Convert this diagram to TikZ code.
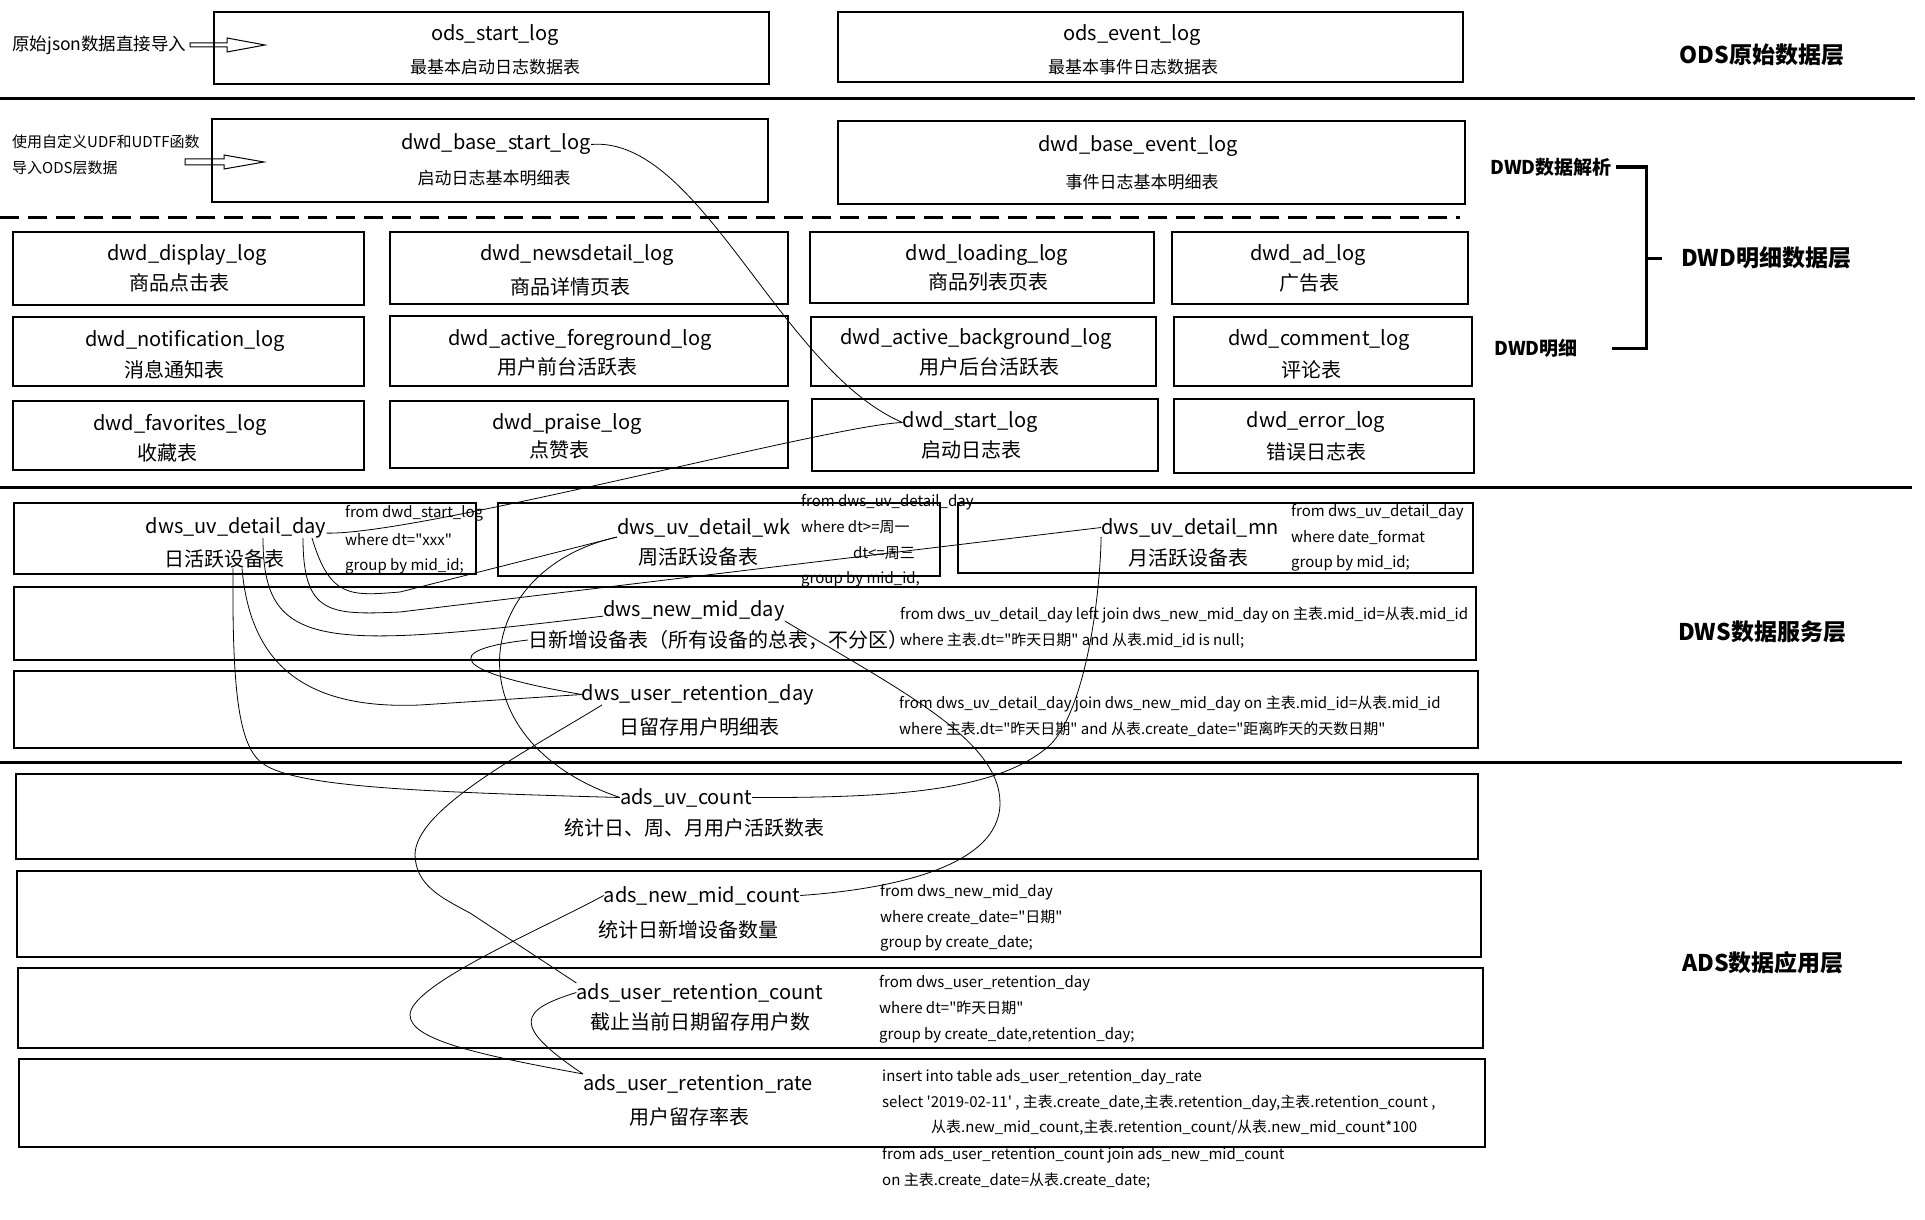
\documentclass[tikz,border=0pt]{standalone}
\usepackage{fontspec}
\setmainfont{Noto Sans CJK SC}
\usetikzlibrary{fit}
\newcommand\dbox[5]{\node[box, fit={(#2,#3) (#4,#5)}] (#1) {};}
\newcommand\qd{\textquotedbl}
\begin{document}
\begin{tikzpicture}[x=1pt,y=-1pt,
  box/.style={draw, line width=1.2pt, inner sep=0pt},
  ttl/.style={inner sep=0pt, yshift=-2.5pt, font=\fontsize{20}{24}\selectfont},
  sub/.style={inner sep=0pt, font=\fontsize{20}{24}\selectfont},
  subs/.style={inner sep=0pt, font=\fontsize{17}{20}\selectfont},
  sql/.style={inner sep=0pt, anchor=west, font=\fontsize{15}{18}\selectfont},
  layer/.style={inner sep=0pt, font=\fontsize{23}{27}\selectfont\bfseries},
  layers/.style={inner sep=0pt, anchor=west, font=\fontsize{19}{22}\selectfont\bfseries},
  note/.style={inner sep=0pt, anchor=west, font=\fontsize{17.5}{21}\selectfont},
  notes/.style={inner sep=0pt, anchor=west, font=\fontsize{15}{19}\selectfont},
  link/.style={line width=0.8pt},
  sepline/.style={line width=3pt},
  dashline/.style={line width=3pt, dash pattern=on 19pt off 9pt},
  hollow/.style={draw, line width=1pt},
  brk/.style={line width=3pt}]
\useasboundingbox (0,0) rectangle (1925,1220);

% ---------------- ODS ----------------
\dbox{bos}{214}{12}{769}{84}
\node[ttl] (tos) at (495,33) {ods\_start\_log};
\node[subs] (sos) at (495,67) {最基本启动日志数据表};
\dbox{boe}{838}{12}{1463}{82}
\node[ttl] (toe) at (1132,33) {ods\_event\_log};
\node[subs] (soe) at (1133,67) {最基本事件日志数据表};

\node[note] (n1) at (12,45) {原始json数据直接导入};
\draw[hollow] (190,43) -- (227,43) -- (227,38) -- (265,45) -- (227,52) -- (227,47) -- (190,47) -- cycle;

\node[layer] (lods) at (1762,55) {ODS原始数据层};
\draw[sepline] (0,99) -- (1915,99);

% ---------------- DWD base ----------------
\node[notes] (n2) at (12,142) {使用自定义UDF和UDTF函数};
\node[notes] (n3) at (12,168) {导入ODS层数据};
\draw[hollow] (185,159) -- (224,159) -- (224,155) -- (264,162) -- (224,169) -- (224,165) -- (185,165) -- cycle;

\dbox{bbs}{212}{119}{768}{202}
\node[ttl] (tbs) at (496,142) {dwd\_base\_start\_log};
\node[subs] (sbs) at (494,178) {启动日志基本明细表};
\dbox{bbe}{838}{121}{1465}{204}
\node[ttl] (tbe) at (1138,144) {dwd\_base\_event\_log};
\node[subs] (sbe) at (1142,182) {事件日志基本明细表};

\draw[dashline] (0,217) -- (1460,217);

% ---------------- DWD detail ----------------
\dbox{b11}{13}{232}{364}{305}
\node[ttl] (t11) at (187,253) {dwd\_display\_log};
\node[sub] (s11) at (179,283) {商品点击表};
\dbox{b12}{390}{232}{788}{304}
\node[ttl] (t12) at (577,253) {dwd\_newsdetail\_log};
\node[sub] (s12) at (570,287) {商品详情页表};
\dbox{b13}{810}{232}{1154}{303}
\node[ttl] (t13) at (987,253) {dwd\_loading\_log};
\node[sub] (s13) at (988,282) {商品列表页表};
\dbox{b14}{1172}{232}{1468}{304}
\node[ttl] (t14) at (1308,253) {dwd\_ad\_log};
\node[sub] (s14) at (1309,283) {广告表};

\dbox{b21}{13}{317}{364}{386}
\node[ttl] (t21) at (185,338) {dwd\_notification\_log};
\node[sub] (s21) at (174,370) {消息通知表};
\dbox{b22}{390}{316}{788}{386}
\node[ttl] (t22) at (580,337) {dwd\_active\_foreground\_log};
\node[sub] (s22) at (567,367) {用户前台活跃表};
\dbox{b23}{811}{317}{1156}{386}
\node[ttl] (t23) at (976,337) {dwd\_active\_background\_log};
\node[sub] (s23) at (989,367) {用户后台活跃表};
\dbox{b24}{1174}{317}{1472}{386}
\node[ttl] (t24) at (1319,338) {dwd\_comment\_log};
\node[sub] (s24) at (1311,370) {评论表};

\dbox{b31}{13}{401}{364}{470}
\node[ttl] (t31) at (180,422) {dwd\_favorites\_log};
\node[sub] (s31) at (167,453) {收藏表};
\dbox{b32}{390}{401}{788}{468}
\node[ttl] (t32) at (567,422) {dwd\_praise\_log};
\node[sub] (s32) at (559,450) {点赞表};
\dbox{b33}{812}{399}{1158}{471}
\node[ttl] (t33) at (970,420) {dwd\_start\_log};
\node[sub] (s33) at (971,450) {启动日志表};
\dbox{b34}{1174}{399}{1474}{473}
\node[ttl] (t34) at (1316,420) {dwd\_error\_log};
\node[sub] (s34) at (1316,452) {错误日志表};

\node[layers] (ldwd1) at (1490,167) {DWD数据解析};
\node[layers] (ldwd2) at (1494,348) {DWD明细};
\node[layer] (ldwd) at (1766,258) {DWD明细数据层};
\draw[brk] (ldwd1.east) ++(4,0) coordinate (k1) -- (1646,167) -- (1646,348) -- (1612,348);
\draw[brk] (1646,258) -- (1662,258);

\draw[sepline] (0,487) -- (1912,487);

% ---------------- DWS ----------------
\dbox{bud}{14}{503}{476}{574}
\node[ttl] (tud) at (236,525) {dws\_uv\_detail\_day};
\node[sub] (sud) at (224,559) {日活跃设备表};
\node[sql] (qud1) at (345,513) {from dwd\_start\_log};
\node[sql] (qud2) at (345,540) {where dt=\qd xxx\qd};
\node[sql] (qud3) at (345,566) {group by mid\_id;};

\dbox{buw}{498}{503}{940}{576}
\node[ttl] (tuw) at (704,525) {dws\_uv\_detail\_wk};
\node[sub] (suw) at (698,557) {周活跃设备表};
\node[sql] (quw1) at (801,502) {from dws\_uv\_detail\_day};
\node[sql] (quw2) at (801,527) {where dt>=周一};
\node[sql, anchor=east] (quw3) at (915,553) {dt<=周三};
\node[sql] (quw4) at (801,579) {group by mid\_id;};

\dbox{bum}{958}{503}{1473}{573}
\node[ttl] (tum) at (1190,525) {dws\_uv\_detail\_mn};
\node[sub] (sum) at (1188,558) {月活跃设备表};
\node[sql] (qum1) at (1291,512) {from dws\_uv\_detail\_day};
\node[sql] (qum2) at (1291,537) {where date\_format};
\node[sql] (qum3) at (1291,563) {group by mid\_id;};

\dbox{bnm}{14}{587}{1476}{660}
\node[ttl] (tnm) at (694,608) {dws\_new\_mid\_day};
\node[sub, anchor=west] (snm) at (528,640) {日新增设备表（所有设备的总表，不分区）};
\node[sql] (qnm1) at (900,615) {from dws\_uv\_detail\_day left join dws\_new\_mid\_day on 主表.mid\_id=从表.mid\_id};
\node[sql] (qnm2) at (900,641) {where 主表.dt=\qd 昨天日期\qd{} and 从表.mid\_id is null;};

\dbox{brd}{14}{671}{1478}{748}
\node[ttl] (trd) at (698,692) {dws\_user\_retention\_day};
\node[sub] (srd) at (699,727) {日留存用户明细表};
\node[sql] (qrd1) at (899,704) {from dws\_uv\_detail\_day join dws\_new\_mid\_day on 主表.mid\_id=从表.mid\_id};
\node[sql] (qrd2) at (899,729) {where 主表.dt=\qd 昨天日期\qd{} and 从表.create\_date=\qd 距离昨天的天数日期\qd};

\node[layer] (ldws) at (1762,632) {DWS数据服务层};
\draw[sepline] (0,762) -- (1902,762);

% ---------------- ADS ----------------
\dbox{buc}{16}{774}{1478}{859}
\node[ttl] (tuc) at (686,795) {ads\_uv\_count};
\node[sub] (suc) at (694,828) {统计日、周、月用户活跃数表};

\dbox{bnc}{17}{871}{1481}{957}
\node[ttl] (tnc) at (702,893) {ads\_new\_mid\_count};
\node[sub] (snc) at (688,930) {统计日新增设备数量};
\node[sql] (qnc1) at (880,892) {from dws\_new\_mid\_day};
\node[sql] (qnc2) at (880,917) {where create\_date=\qd 日期\qd};
\node[sql] (qnc3) at (880,943) {group by create\_date;};

\dbox{brc}{18}{968}{1483}{1048}
\node[ttl] (trc) at (700,990) {ads\_user\_retention\_count};
\node[sub] (src) at (700,1022) {截止当前日期留存用户数};
\node[sql] (qrc1) at (879,983) {from dws\_user\_retention\_day};
\node[sql] (qrc2) at (879,1008) {where dt=\qd 昨天日期\qd};
\node[sql] (qrc3) at (879,1035) {group by create\_date,retention\_day;};

\dbox{brr}{19}{1059}{1485}{1147}
\node[ttl] (trr) at (698,1081) {ads\_user\_retention\_rate};
\node[sub] (srr) at (689,1117) {用户留存率表};
\node[sql] (qrr1) at (882,1077) {insert into table ads\_user\_retention\_day\_rate};
\node[sql] (qrr2) at (882,1103) {select \textquotesingle 2019-02-11\textquotesingle\ , 主表.create\_date,主表.retention\_day,主表.retention\_count ,};
\node[sql] (qrr3) at (931,1128) {从表.new\_mid\_count,主表.retention\_count/从表.new\_mid\_count*100};
\node[sql] (qrr4) at (882,1155) {from ads\_user\_retention\_count join ads\_new\_mid\_count};
\node[sql] (qrr5) at (882,1181) {on 主表.create\_date=从表.create\_date;};

\node[layer] (lads) at (1763,963) {ADS数据应用层};

% ---------------- connectors ----------------
\draw[link] (tbs.east) .. controls (700,135) and (780,370) .. (t33.west);
\draw[link] (tud.base east) .. controls (420,535) and (830,425) .. (t33.west);
% day -> new_mid
\draw[link] ([xshift=27pt]tud.south) .. controls (263,650) and (320,650) .. (tnm.base west);
% day -> mn
\draw[link] ([xshift=67pt]tud.south) .. controls (303,615) and (330,615) .. (400,612) -- (tum.west);
% day -> wk
\draw[link] ([xshift=76pt]tud.south) .. controls (330,598) and (350,596) .. (400,592) -- (tuw.south west);
% day -> uv_count
\draw[link] ([xshift=9pt]sud.south) .. controls (232,700) and (240,750) .. (265,765) .. controls (300,787) and (420,792) .. (tuc.west);
% day -> retention_day
\draw[link] ([xshift=18pt]sud.south) .. controls (250,660) and (300,710) .. (420,705) -- (trd.west);
% new_mid -> retention_day
\draw[link] (snm.west) .. controls (440,650) and (450,672) .. (trd.west);
% wk -> uv_count
\draw[link] (tuw.south west) .. controls (470,570) and (450,740) .. (tuc.west);
% uv_count -> mn
\draw[link] (tuc.east) .. controls (900,798) and (1000,790) .. (1050,745) .. controls (1085,710) and (1100,600) .. (tum.south west);
% new_mid -> new_mid_count
\draw[link] (tnm.south east) .. controls (900,690) and (1000,740) .. (1000,803) .. controls (1000,870) and (880,890) .. (tnc.east);
% retention_day -> retention_count
\draw[link] ([xshift=-96pt]trd.south) .. controls (520,755) and (415,810) .. (415,855) .. controls (416,885) and (440,897) .. (470,913) -- (trc.north west);
% new_mid_count -> retention_rate
\draw[link] (tnc.west) .. controls (540,930) and (410,985) .. (410,1015) .. controls (410,1040) and (480,1055) .. (trr.north west);
% retention_count -> retention_rate
\draw[link] (trc.west) .. controls (520,1010) and (510,1025) .. (trr.north west);
\end{tikzpicture}
\end{document}
